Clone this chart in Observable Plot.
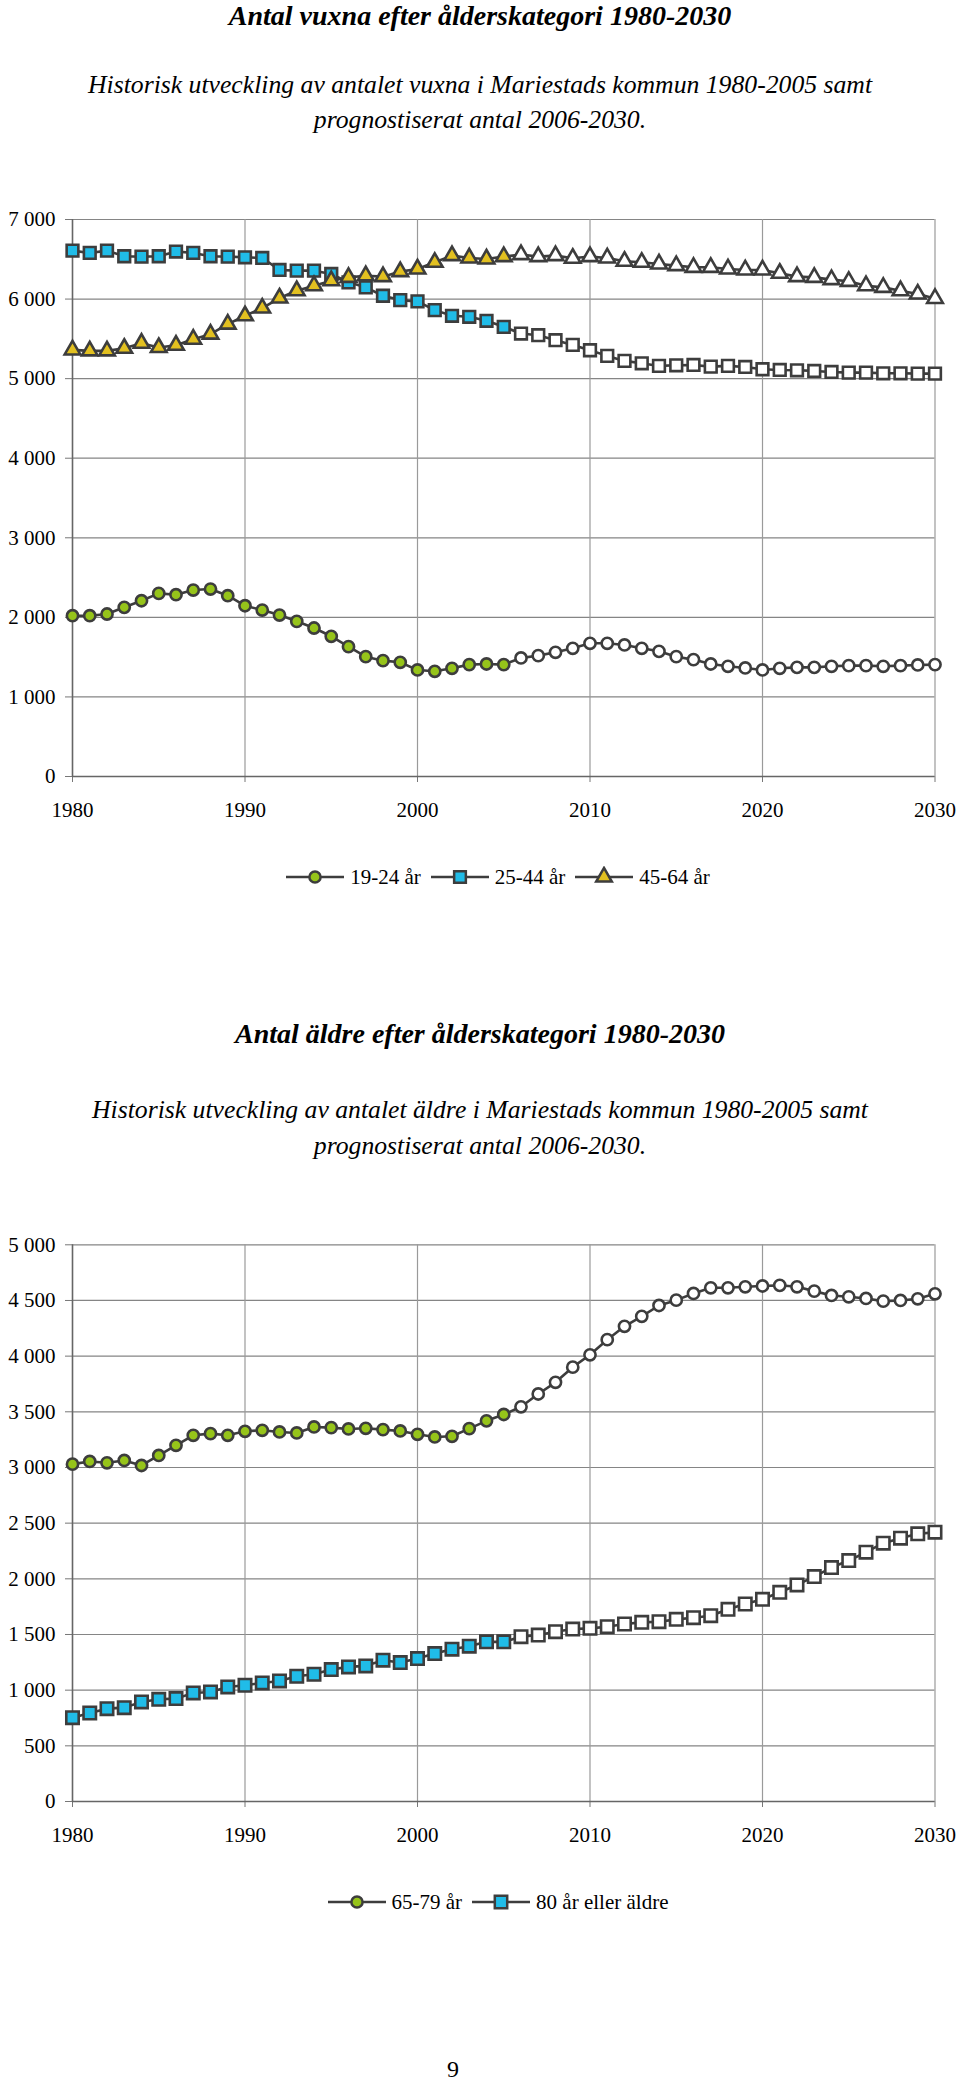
<!DOCTYPE html>
<html><head><meta charset="utf-8">
<script src="https://cdn.jsdelivr.net/npm/d3@7"></script>
<script src="https://cdn.jsdelivr.net/npm/@observablehq/plot@0.6"></script>
<style>
body{margin:0;background:#fff;}
#page{position:relative;width:960px;height:2087px;overflow:hidden;font-family:"Liberation Serif","Times New Roman",serif;color:#000;background:#fff;}
.title{position:absolute;left:0;width:960px;text-align:center;font-weight:bold;font-style:italic;font-size:28px;line-height:33.6px;white-space:nowrap;}
.sub{position:absolute;left:0;width:960px;text-align:center;font-style:italic;font-size:25.7px;white-space:nowrap;}
.chart{position:absolute;left:0;}
.legend{position:absolute;left:0;width:1006px;height:30px;display:flex;justify-content:center;align-items:center;font-size:21px;white-space:nowrap;}
.legend svg{margin-right:6px;}
.legend span{margin-right:10px;}
.pagenum{position:absolute;left:0;width:906px;text-align:center;font-size:24px;line-height:28.8px;}
</style>
</head><body>
<div id="page">
  <div class="title" style="top:-1px">Antal vuxna efter ålderskategori 1980-2030</div>
  <div class="sub" style="top:67px;line-height:35px">Historisk utveckling av antalet vuxna i Mariestads kommun 1980-2005 samt<br>prognostiserat antal 2006-2030.</div>
  <div class="chart" id="chart1" style="top:200px"></div>
  <div class="legend" id="legend1" style="top:862px"></div>

  <div class="title" style="top:1017px">Antal äldre efter ålderskategori 1980-2030</div>
  <div class="sub" style="top:1092px;line-height:36px">Historisk utveckling av antalet äldre i Mariestads kommun 1980-2005 samt<br>prognostiserat antal 2006-2030.</div>
  <div class="chart" id="chart2" style="top:1225px"></div>
  <div class="legend" id="legend2" style="top:1887px"></div>

  <div class="pagenum" style="top:2055px">9</div>
</div>
<script>
// ---- Data ----
const years = [1980,1981,1982,1983,1984,1985,1986,1987,1988,1989,
               1990,1991,1992,1993,1994,1995,1996,1997,1998,1999,
               2000,2001,2002,2003,2004,2005,2006,2007,2008,2009,
               2010,2011,2012,2013,2014,2015,2016,2017,2018,2019,
               2020,2021,2022,2023,2024,2025,2026,2027,2028,2029,2030];
const lastHistoricYear = 2005;

const age1924 = [2021,2021,2042,2126,2209,2301,2285,2343,2356,2272,
                 2146,2092,2029,1950,1866,1762,1632,1506,1456,1435,
                 1339,1322,1360,1406,1414,1406,1490,1519,1561,1611,
                 1674,1674,1653,1611,1573,1506,1469,1414,1385,1364,
                 1339,1360,1372,1372,1385,1393,1393,1385,1393,1402,1406];
const age2544 = [6609,6580,6609,6538,6534,6538,6597,6580,6538,6534,
                 6525,6517,6366,6357,6357,6315,6210,6147,6042,5987,
                 5971,5861,5790,5777,5727,5651,5567,5546,5483,5424,
                 5357,5286,5223,5193,5160,5168,5172,5151,5160,5147,
                 5118,5109,5105,5097,5084,5076,5076,5067,5067,5063,5063];
const age4564 = [5361,5349,5349,5382,5445,5391,5420,5496,5559,5685,
                 5790,5887,6013,6105,6168,6231,6273,6294,6282,6345,
                 6378,6462,6546,6517,6504,6534,6559,6534,6546,6513,
                 6534,6517,6475,6462,6441,6420,6399,6399,6378,6366,
                 6366,6324,6282,6273,6244,6223,6168,6147,6105,6063,6008];
const age6579 = [3030,3054,3042,3063,3018,3108,3199,3289,3304,3289,
                 3325,3334,3319,3310,3364,3358,3346,3352,3340,3328,
                 3298,3274,3280,3349,3419,3476,3545,3660,3765,3901,
                 4012,4148,4268,4358,4455,4503,4563,4614,4614,4623,
                 4630,4636,4623,4584,4545,4533,4518,4494,4500,4515,4560];
const age80 = [753,795,834,843,894,918,924,975,984,1029,
               1044,1065,1083,1125,1143,1185,1209,1218,1269,1248,
               1284,1329,1368,1395,1434,1434,1480,1495,1525,1549,
               1555,1570,1594,1609,1615,1636,1651,1669,1726,1774,
               1816,1879,1945,2020,2101,2164,2239,2320,2365,2404,2419];

const xTicks = [1980,1990,2000,2010,2020,2030];
const yTicks1 = [0,1000,2000,3000,4000,5000,6000,7000];
const yTicks2 = [0,500,1000,1500,2000,2500,3000,3500,4000,4500,5000];

const series1 = [
  {name:"19-24 år", values:age1924, symbol:"circle", r:5.6, color:"#96c41a"},
  {name:"25-44 år", values:age2544, symbol:"square", r:6.6, color:"#20bce8"},
  {name:"45-64 år", values:age4564, symbol:"triangle", r:5.8, color:"#e2c020"}
];
const series2 = [
  {name:"65-79 år", values:age6579, symbol:"circle", r:5.6, color:"#96c41a"},
  {name:"80 år eller äldre", values:age80, symbol:"square", r:7, color:"#20bce8"}
];

const INK = "#3d3d3d";
const fmt = d => d3.format(",")(d).replace(/,/g, " ");

function rows(s){ return years.map((y,i)=>({year:y, value:s.values[i], forecast: y > lastHistoricYear})); }

function makeChart(series, yDomain, yTicks, marginTop){
  const marks = [
    Plot.gridY(yTicks, {stroke:"#858585", strokeOpacity:1, strokeWidth:1.2}),
    Plot.gridX(xTicks, {stroke:"#9a9a9a", strokeOpacity:1, strokeWidth:1.2}),
    Plot.axisY(yTicks, {tickSize:7, tickPadding:10, tickFormat:fmt, label:null, stroke:"#777"}),
    Plot.axisX(xTicks, {tickSize:6, tickPadding:20, tickFormat:d=>String(d), label:null, stroke:"#777"}),
    Plot.ruleX([1980], {stroke:"#666", strokeWidth:1.5}),
    Plot.ruleY([0], {stroke:"#666", strokeWidth:1.5})
  ];
  for (const s of series) {
    marks.push(Plot.line(rows(s), {x:"year", y:"value", stroke:INK, strokeWidth:2.6}));
  }
  for (const s of series) {
    const data = rows(s);
    marks.push(Plot.dot(data.filter(d=>!d.forecast), {x:"year", y:"value", symbol:s.symbol, r:s.r, fill:s.color, stroke:INK, strokeWidth:2.6}));
    marks.push(Plot.dot(data.filter(d=>d.forecast), {x:"year", y:"value", symbol:s.symbol, r:s.r, fill:"#fff", stroke:INK, strokeWidth:2.6}));
  }
  return Plot.plot({
    width:960, height:640,
    marginTop, marginBottom:64, marginLeft:72, marginRight:25.5,
    style:{fontFamily:"'Liberation Serif', 'Times New Roman', serif", fontSize:"21px", color:"#000", background:"transparent", overflow:"visible"},
    x:{domain:[1980,2030]},
    y:{domain:yDomain},
    marks
  });
}

function makeLegend(el, series){
  const symMap = {circle:d3.symbolCircle, square:d3.symbolSquare, triangle:d3.symbolTriangle};
  for (const s of series){
    const svg = d3.create("svg").attr("width",58).attr("height",22);
    svg.append("line").attr("x1",0).attr("x2",58).attr("y1",11).attr("y2",11).attr("stroke",INK).attr("stroke-width",2.6);
    svg.append("path").attr("d", d3.symbol(symMap[s.symbol], Math.PI*s.r*s.r)())
      .attr("transform","translate(29,11)").attr("fill",s.color).attr("stroke",INK).attr("stroke-width",2.5);
    el.appendChild(svg.node());
    const t = document.createElement("span"); t.textContent = s.name; el.appendChild(t);
  }
}

document.getElementById("chart1").appendChild(makeChart(series1, [0,7000], yTicks1, 19));
document.getElementById("chart2").appendChild(makeChart(series2, [0,5000], yTicks2, 19.3));
makeLegend(document.getElementById("legend1"), series1);
makeLegend(document.getElementById("legend2"), series2);
</script>
</body></html>
